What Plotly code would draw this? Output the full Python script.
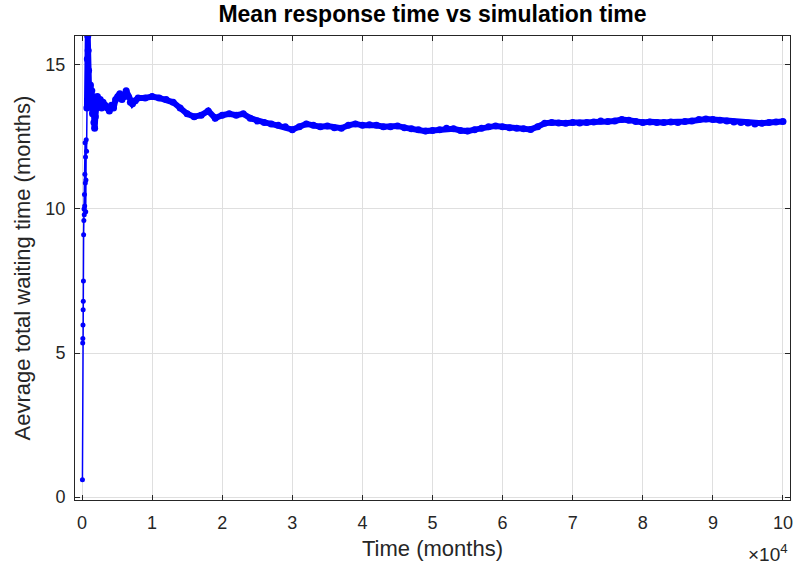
import plotly.graph_objects as go

# simulation time (months) and mean response time values
time_months = [
    60, 100, 120, 140, 160, 180, 200, 230, 260, 290, 320, 350, 380, 410, 440, 470, 500, 530, 560, 600, 650,
    700, 760, 820, 880, 940, 1000, 1100, 1200, 1300, 1400, 1500, 1600, 1700, 1800, 1900, 2000, 2200, 2400,
    2600, 2800, 3000, 3300, 3600, 3900, 4200, 4500, 4800, 5100, 5400, 5700, 6000, 6300, 6600, 6900, 7200,
    7600, 8000,
    9000, 10000, 11000, 12000, 13000, 14000, 15000, 16000, 17000, 18000, 19000, 20000, 21000, 22000, 23000,
    24000, 25000, 26000, 27000, 28000, 29000, 30000, 31000, 32000, 33000, 34000, 35000, 36000, 37000, 38000,
    39000, 40000, 41000, 42000, 43000, 44000, 45000, 46000, 47000, 48000, 49000, 50000, 51000, 52000, 53000,
    54000, 55000, 56000, 57000, 58000, 59000, 60000, 61000, 62000, 63000, 64000, 65000, 66000, 67000, 68000,
    69000, 70000, 71000, 72000, 73000, 74000, 75000, 76000, 77000, 78000, 79000, 80000, 81000, 82000, 83000,
    84000, 85000, 86000, 87000, 88000, 89000, 90000, 91000, 92000, 93000, 94000, 95000, 96000, 97000, 98000,
    99000, 100000,
]
mean_wait = [
    0.6, 5.35, 5.5, 5.97, 6.5, 6.8, 7.5, 9.1, 9.6, 10.0, 9.8, 10.5, 10.1, 11.2, 12.3, 10.9, 11.8, 9.9, 11.0, 12.4, 12.0,
    13.5, 15.2, 16.0, 15.5, 14.8, 14.2, 14.0, 14.3, 13.6, 14.1, 13.3, 13.9, 13.0, 12.8, 13.2, 13.7, 13.9, 13.6,
    13.8, 13.5, 13.7, 13.6, 13.5, 13.4, 13.6, 13.5, 13.8, 13.9, 14.0, 13.8, 13.9, 14.1, 13.9, 13.7, 13.65,
    13.75, 13.85,
    13.85, 13.9, 13.85, 13.8, 13.7, 13.5, 13.3, 13.2, 13.25, 13.4, 13.15, 13.25, 13.3, 13.25, 13.3,
    13.15, 13.05, 13.0, 12.95, 12.9, 12.85, 12.75, 12.85, 12.95, 12.9, 12.85, 12.88, 12.82, 12.8, 12.9,
    12.95, 12.9, 12.92, 12.9, 12.85, 12.85, 12.88, 12.82, 12.78, 12.75, 12.7, 12.72, 12.75, 12.8, 12.78,
    12.72, 12.7, 12.75, 12.8, 12.85, 12.88, 12.85, 12.82, 12.8, 12.78, 12.76, 12.85, 12.97, 13.0, 12.98,
    12.97, 13.0, 12.98, 13.0, 13.02, 13.05, 13.03, 13.05, 13.1, 13.08, 13.03, 13.0, 13.02, 13.0, 13.0,
    13.02, 13.0, 13.03, 13.05, 13.1, 13.12, 13.1, 13.08, 13.05, 13.02, 13.0, 12.98, 12.95, 12.97, 13.0,
    13.02, 13.03,
]

x_tick_vals = [0, 10000, 20000, 30000, 40000, 50000, 60000, 70000, 80000, 90000, 100000]
x_tick_text = ["0", "1", "2", "3", "4", "5", "6", "7", "8", "9", "10"]
y_tick_vals = [0, 5, 10, 15]

BLUE = "#0000ff"
AX = "#262626"
GRID = "#dfdfdf"
FONT = "Liberation Sans, Arial, sans-serif"

split = next(i for i, t in enumerate(time_months) if t >= 700)

fig = go.Figure()
fig.add_trace(go.Scatter(
    x=time_months, y=mean_wait, mode="lines+markers",
    line=dict(color=BLUE, width=1.5),
    marker=dict(color=BLUE, size=5),
    hoverinfo="skip", showlegend=False,
))
fig.add_trace(go.Scatter(
    x=time_months[split:], y=mean_wait[split:], mode="lines+markers",
    line=dict(color=BLUE, width=6),
    marker=dict(color=BLUE, size=7),
    hoverinfo="skip", showlegend=False,
))

fig.update_layout(
    width=799, height=571,
    margin=dict(l=75, r=6, t=36, b=71),
    paper_bgcolor="white", plot_bgcolor="white",
    font=dict(family=FONT, color=AX, size=18),
    title=dict(text="<b>Mean response time vs simulation time</b>", x=0.5, xanchor="center",
               xref="paper", y=0.976, yanchor="middle", font=dict(size=23, color="black", family=FONT)),
    xaxis=dict(
        range=[-1000, 101000], tickvals=x_tick_vals, ticktext=x_tick_text,
        showgrid=True, gridcolor=GRID, gridwidth=1, zeroline=False,
        showline=True, linecolor=AX, linewidth=1, mirror="ticks",
        ticks="inside", ticklen=5, tickcolor=AX, ticklabelstandoff=6,
        title=dict(text="Time (months)", font=dict(size=22, color=AX), standoff=9),
        tickfont=dict(size=18, color=AX),
    ),
    yaxis=dict(
        range=[-0.1, 16], tickvals=y_tick_vals,
        showgrid=True, gridcolor=GRID, gridwidth=1, zeroline=False,
        showline=True, linecolor=AX, linewidth=1, mirror="ticks",
        ticks="inside", ticklen=5, tickcolor=AX, ticklabelstandoff=5,
        title=dict(text="Aevrage total waiting time (months)", font=dict(size=22, color=AX), standoff=8),
        tickfont=dict(size=18, color=AX),
    ),
    annotations=[dict(
        text="×10<sup>4</sup>", xref="paper", yref="paper", x=1.0, y=-0.085,
        xanchor="right", yanchor="top", showarrow=False, font=dict(size=19, color=AX),
    )],
)

fig.write_html("out.html")
